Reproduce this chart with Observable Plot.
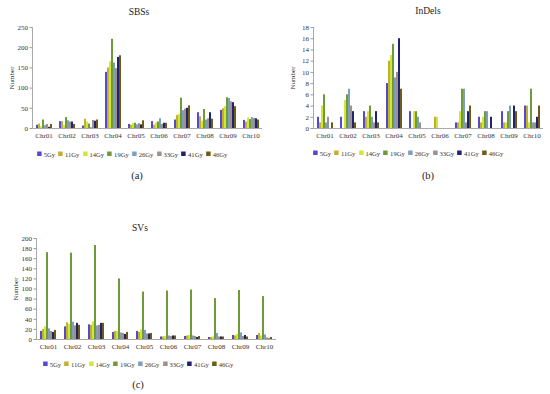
<!DOCTYPE html>
<html><head><meta charset="utf-8">
<script src="https://cdn.jsdelivr.net/npm/d3@7"></script>
<script src="https://cdn.jsdelivr.net/npm/@observablehq/plot@0.6"></script>
<style>
body{margin:0;background:#fff;}
#root{position:relative;width:550px;height:394px;overflow:hidden;font-family:"Liberation Serif",serif;background:#fff;}
.abs{position:absolute;}
.ttl{font-size:9.5px;color:#222;text-align:center;transform:translate(-50%,-50%);white-space:nowrap;}
.cap{font-size:10.5px;color:#222;text-align:center;transform:translate(-50%,-50%);white-space:nowrap;}
.lgwrap{transform:translate(-50%,-50%);}
.lg-swatches{min-height:0 !important;margin:0 !important;justify-content:center;flex-wrap:nowrap !important;}
.lg-swatch{margin-right:3.5px !important;}
.lg-swatch svg{margin-right:2px !important;}
</style></head><body><div id="root"></div>
<script>
const chromosomes = ["Chr01","Chr02","Chr03","Chr04","Chr05","Chr06","Chr07","Chr08","Chr09","Chr10"];
const doses = ["5Gy","11Gy","14Gy","19Gy","26Gy","33Gy","41Gy","46Gy"];
const doseColors = ["#5549cf","#c2b12e","#d2e63a","#6f9b36","#7e9ebf","#a18f8b","#1f2370","#6e5c14"];

// rows = chromosomes, columns = doses (5Gy..46Gy)
const sbsValues = [
  [8, 11, 4, 21, 7, 10, 3, 10],
  [17, 17, 7, 27, 19, 16, 16, 10],
  [6, 23, 16, 11, 2, 20, 18, 21],
  [139, 150, 165, 221, 162, 148, 176, 180],
  [10, 8, 12, 13, 9, 12, 9, 19],
  [17, 8, 14, 16, 24, 10, 13, 13],
  [21, 32, 35, 75, 44, 48, 50, 56],
  [39, 29, 18, 47, 21, 24, 39, 23],
  [45, 49, 54, 76, 74, 66, 64, 54],
  [20, 16, 26, 22, 27, 25, 24, 21]
];
const indelValues = [
  [2, 1, 4, 6, 1, 2, 0, 1],
  [2, 0, 5, 6, 7, 4, 3, 1],
  [3, 2, 3, 4, 2, 1, 3, 1],
  [8, 12, 13, 15, 9, 10, 16, 7],
  [3, 0, 3, 3, 2, 1, 0, 0],
  [0, 2, 2, 0, 0, 0, 0, 0],
  [1, 1, 3, 7, 7, 1, 3, 4],
  [2, 1, 2, 3, 3, 0, 2, 0],
  [3, 1, 1, 3, 4, 0, 4, 3],
  [4, 4, 1, 7, 1, 1, 2, 4]
];
const svValues = [
  [16, 20, 25, 172, 21, 16, 14, 18],
  [25, 33, 30, 171, 34, 27, 32, 28],
  [29, 28, 35, 186, 27, 28, 32, 32],
  [14, 16, 16, 120, 13, 12, 10, 14],
  [16, 14, 19, 94, 18, 11, 11, 12],
  [5, 5, 6, 96, 7, 6, 7, 7],
  [6, 7, 8, 98, 7, 6, 4, 6],
  [4, 4, 5, 81, 12, 5, 5, 5],
  [8, 7, 10, 97, 13, 6, 8, 5],
  [8, 12, 7, 85, 9, 3, 1, 4]
];
const sbsTicks = [0, 50, 100, 150, 200, 250];
const indelTicks = [0, 2, 4, 6, 8, 10, 12, 14, 16, 18];
const svTicks = [0, 20, 40, 60, 80, 100, 120, 140, 160, 180, 200];

function tidy(values) {
  return chromosomes.flatMap((c, i) => doses.map((d, j) => ({chr: c, dose: d, value: values[i][j]})));
}

function panel({values, ticks, width, height, mt, mb, ml, mr}) {
  const data = tidy(values);
  return Plot.plot({
    width, height, marginTop: mt, marginBottom: mb, marginLeft: ml, marginRight: mr,
    style: {fontFamily: "'Liberation Serif', serif", fontSize: "7px", color: "#333", background: "transparent", overflow: "visible", maxWidth: "none"},
    fx: {domain: chromosomes, padding: 0, label: null},
    x: {domain: doses, axis: null, paddingInner: 0.22, paddingOuter: 0.62},
    y: {domain: [ticks[0], ticks[ticks.length - 1]], label: null},
    color: {domain: doses, range: doseColors},
    marks: [
      Plot.barY(data, {fx: "chr", x: "dose", y: "value", fill: "dose"}),
      Plot.ruleY([0], {stroke: "#aaa", strokeWidth: 1}),
      Plot.axisFx({anchor: "bottom", tickSize: 0, tickPadding: 5, label: null}),
      Plot.axisY({ticks, tickSize: 2.5, tickPadding: 2, stroke: "#999", label: "Number", labelAnchor: "center", labelArrow: "none", labelOffset: 23}),
      Plot.frame({anchor: "left", facetAnchor: "left", stroke: "#aaa"})
    ]
  });
}

function legend() {
  return Plot.legend({
    color: {domain: doses, range: doseColors},
    legend: "swatches", swatchSize: 4.5, className: "lg",
    style: {fontSize: "6.6px", fontFamily: "'Liberation Serif', serif", color: "#333"}
  });
}

const root = document.getElementById("root");
function place(el, left, top, cls) {
  const d = document.createElement("div");
  d.className = "abs" + (cls ? " " + cls : "");
  d.style.left = left + "px"; d.style.top = top + "px";
  if (typeof el === "string") d.textContent = el; else d.appendChild(el);
  root.appendChild(d);
  return d;
}

// (a) SBSs
place(panel({values: sbsValues, ticks: sbsTicks, width: 275, height: 145, mt: 27, mb: 17, ml: 31, mr: 12}), 0, 0);
place("SBSs", 139, 12, "ttl");
place(legend(), 134, 154, "lgwrap");
place("(a)", 137, 175, "cap");

// (b) InDels
place(panel({values: indelValues, ticks: indelTicks, width: 275, height: 145, mt: 27, mb: 17, ml: 34, mr: 4}), 275, 0);
place("InDels", 428, 11, "ttl");
place(legend(), 410, 153, "lgwrap");
place("(b)", 428, 175, "cap");

// (c) SVs
const clip = document.createElement("div");
clip.style.cssText = "position:absolute;left:0;top:0;width:276px;height:394px;overflow:hidden;";
const svPlot = panel({values: svValues, ticks: svTicks, width: 282, height: 356, mt: 238, mb: 17, ml: 31, mr: 2});
clip.appendChild(svPlot);
root.appendChild(clip);
place("SVs", 140, 228, "ttl");
place(legend(), 140, 364, "lgwrap");
place("(c)", 138, 384, "cap");
</script></body></html>
